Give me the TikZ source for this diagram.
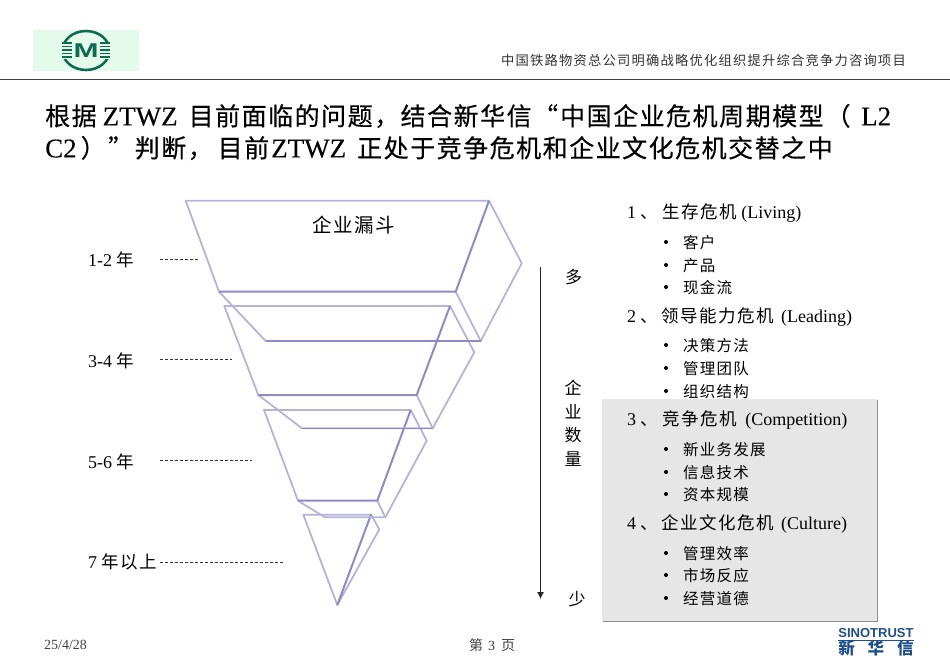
\documentclass[tikz,border=0pt]{standalone}
\usepackage{fontspec}
\usetikzlibrary{arrows.meta}
\setmainfont{Liberation Serif}
\newfontfamily\cjk{Noto Sans CJK SC}
\newfontfamily\cjkspaced[LetterSpace=8]{Noto Sans CJK SC}
\newfontfamily\cjktitle[LetterSpace=6,FakeBold=.35]{Noto Sans CJK SC}
\newfontfamily\lattitle[FakeBold=.15]{Liberation Serif}
\definecolor{funnelc}{HTML}{B4B4DA}
\definecolor{funneld}{HTML}{8C8CC4}
\definecolor{logog}{HTML}{0F6B50}
\definecolor{logobg}{HTML}{E4FBEC}
\definecolor{boxc}{HTML}{E6E6E6}
\definecolor{sinoc}{HTML}{1F4E8C}
\tikzset{
  txt/.style={anchor=west,inner sep=0,text=black,font=\fontsize{18}{18}\selectfont},
  ttl/.style={anchor=west,inner sep=0,text=black,font=\fontsize{27}{27}\selectfont\lattitle},
  sub/.style={anchor=west,inner sep=0,text=black,font=\fontsize{15.5}{16}\selectfont\cjkspaced},
  smalltxt/.style={anchor=west,inner sep=0,text=black!75,font=\fontsize{14}{14}\selectfont},
  edge/.style={draw=funnelc,line width=1.8pt,line join=round},
  edgedark/.style={draw=funneld,line width=2pt,line join=round},
  lev/.style={densely dashed,line width=.6pt,black!80}
}
\newcommand\tcn[1]{{\fontsize{25}{27}\selectfont\cjktitle #1}}
\newcommand\hcn[1]{{\fontsize{17.5}{18}\selectfont\cjkspaced #1}}
\begin{document}
\begin{tikzpicture}
  [x=1pt,y=-1pt]
  \useasboundingbox (0,0) rectangle (950,658);

  % header
  \fill [logobg] (33,30) rectangle (139,71);
  \draw [logog,line width=2.6pt] (86,50.5) ellipse (23.5 and 19.5);
  \fill [logobg] (60,42) rectangle (112,59);
  \foreach \ypos in {43,46.5,50,53.5,57}
    \draw [logog,line width=1.6pt] (62,\ypos) -- (110,\ypos);
  \fill [logobg] (72,40) rectangle (100,61);
  \node [inner sep=0,text=logog,xscale=1.5,font=\fontsize{20}{20}\selectfont\bfseries\fontspec{Liberation Sans}] (logom) at (86,50.5) {M};
  \draw [black!75,line width=1pt] (0,80) -- (950,80);
  \node [anchor=east,inner sep=0,text=black!80,font=\fontsize{13.3}{14}\selectfont\cjk\addfontfeature{LetterSpace=9}] (hdr) at (906,60)
    {中国铁路物资总公司明确战略优化组织提升综合竞争力咨询项目};

  % title
  \node [ttl] (t1) at (45,116) {\tcn{根据}\hspace{6pt}ZTWZ\hspace{11pt}\tcn{目前面临的问题，结合新华信“}\hspace{2pt}\tcn{中国企业危机周期模型}\hspace{2pt}\tcn{（}\hspace{10.5pt}L2};
  \node [ttl] (t2) at (45,148) {C2\hspace{4pt}\tcn{）}\hspace{2.5pt}\tcn{”判断，}\hspace{5pt}\tcn{目前}\hspace{2pt}ZTWZ\hspace{11pt}\tcn{正处于竞争危机和企业文化危机交替之中}};

  % funnel, bottom piece first
  \draw [edge] (337.3,605) -- (303.3,514.7) -- (371,514.7) -- (379.3,529.3) -- cycle;
  \draw [edgedark] (371,514.7) -- (337.3,605);
  \draw [edge] (298,500.7) -- (325,517.3) -- (385.3,517.3) -- (426.7,440.7) -- (410.7,410) -- (264,410) -- cycle;
  \draw [edge] (377.3,500.7) -- (385.3,517.3);
  \draw [edgedark] (410.7,410) -- (377.3,500.7) -- (298,500.7);
  \draw [edge] (258.3,395) -- (302,428.3) -- (432.7,428.3) -- (474.3,352.3) -- (450,306) -- (224.3,306) -- cycle;
  \draw [edge] (416.7,395) -- (432.7,428.3);
  \draw [edgedark] (450,306) -- (416.7,395) -- (258.3,395);
  \draw [edge] (219,291.7) -- (265.7,341) -- (480.7,341) -- (521.7,263.3) -- (489,200.7) -- (185.7,200.7) -- cycle;
  \draw [edge] (455.7,291.7) -- (480.7,341);
  \draw [edgedark] (489,200.7) -- (455.7,291.7) -- (219,291.7);
  \draw [funneld,line width=1.4pt] (265.7,341) -- (480.7,341);
  \draw [funneld,line width=1.4pt] (302,428.3) -- (432.7,428.3);
  \node [txt,anchor=center,font=\fontsize{19.5}{20}\selectfont\cjkspaced] (fname) at (353.5,225) {企业漏斗};

  % levels
  \foreach \name/\ypos/\yline/\xend/\lab in {a/260/259/199/1-2 \hcn{年},b/361/359/232/3-4 \hcn{年},c/462/460/252/5-6 \hcn{年},d/562/562/283/7 \hcn{年以上}} {
    \node [txt] (lab\name) at (88,\ypos) {\lab};
    \coordinate (s\name) at (160,\yline);
    \coordinate (e\name) at (\xend,\yline);
    \draw [lev] (s\name) -- (e\name);
  }

  % axis
  \coordinate (top) at (540.5,267);
  \coordinate (bot) at (540.5,599);
  \draw [-{Latex[length=7pt,width=7pt]},line width=.8pt,black!85] (top) -- (bot);
  \foreach \name/\xpos/\ypos/\lab in {m/573.5/277/多,q1/573/388/企,q2/573/412/业,q3/573/435/数,q4/573/459/量,f/577/599/少}
    \node [txt,anchor=center,font=\fontsize{17}{17}\selectfont] (ax\name) at (\xpos,\ypos) {\cjk\lab};

  % shaded box
  \fill [black!45] (603,400) rectangle (878,621.5);
  \fill [boxc] (602,399) rectangle (877,620.5);

  % list
  \foreach \name/\ypos/\lab in {
    h1/213/{1\hspace{4pt}\hcn{、}\hspace{5pt}\hcn{生存危机} (Living)},
    h2/317/{2\hspace{4pt}\hcn{、}\hspace{4pt}\hcn{领导能力危机}\hspace{3pt} (Leading)},
    h3/420/{3\hspace{4pt}\hcn{、}\hspace{5pt}\hcn{竞争危机}\hspace{4pt} (Competition)},
    h4/524/{4\hspace{4pt}\hcn{、}\hspace{4pt}\hcn{企业文化危机}\hspace{3pt} (Culture)}}
    \node [txt] (\name) at (627,\ypos) {\lab};
  \foreach \name/\ypos/\lab in {
    i1/242/客户,i2/265/产品,i3/287/现金流,
    i4/345/决策方法,i5/368/管理团队,i6/391/组织结构,
    i7/449/新业务发展,i8/472/信息技术,i9/494/资本规模,
    i10/553/管理效率,i11/575/市场反应,i12/598/经营道德} {
    \node [sub] (\name) at (683,\ypos+.6) {\lab};
    \fill (666,\ypos) circle (2);
  }

  % footer
  \node [smalltxt] (date) at (44,645) {25/4/28};
  \node [smalltxt] (page) at (469,645) {{\cjk 第}\hspace{5pt}3\hspace{6pt}{\cjk 页}};
  \node [inner sep=0,text=sinoc,font=\fontsize{13}{13}\selectfont\bfseries\fontspec{Liberation Sans}] (sino) at (876,633.5) {SINOTRUST};
  \draw [sinoc,line width=.8pt] (838,640.7) -- (914,640.7);
  \node [inner sep=0,text=sinoc,font=\fontsize{16.5}{16.5}\selectfont\bfseries\fontspec{Noto Sans CJK SC}] (sino2) at (876,648) {新\hspace{13pt}华\hspace{13pt}信};
\end{tikzpicture}
\end{document}
